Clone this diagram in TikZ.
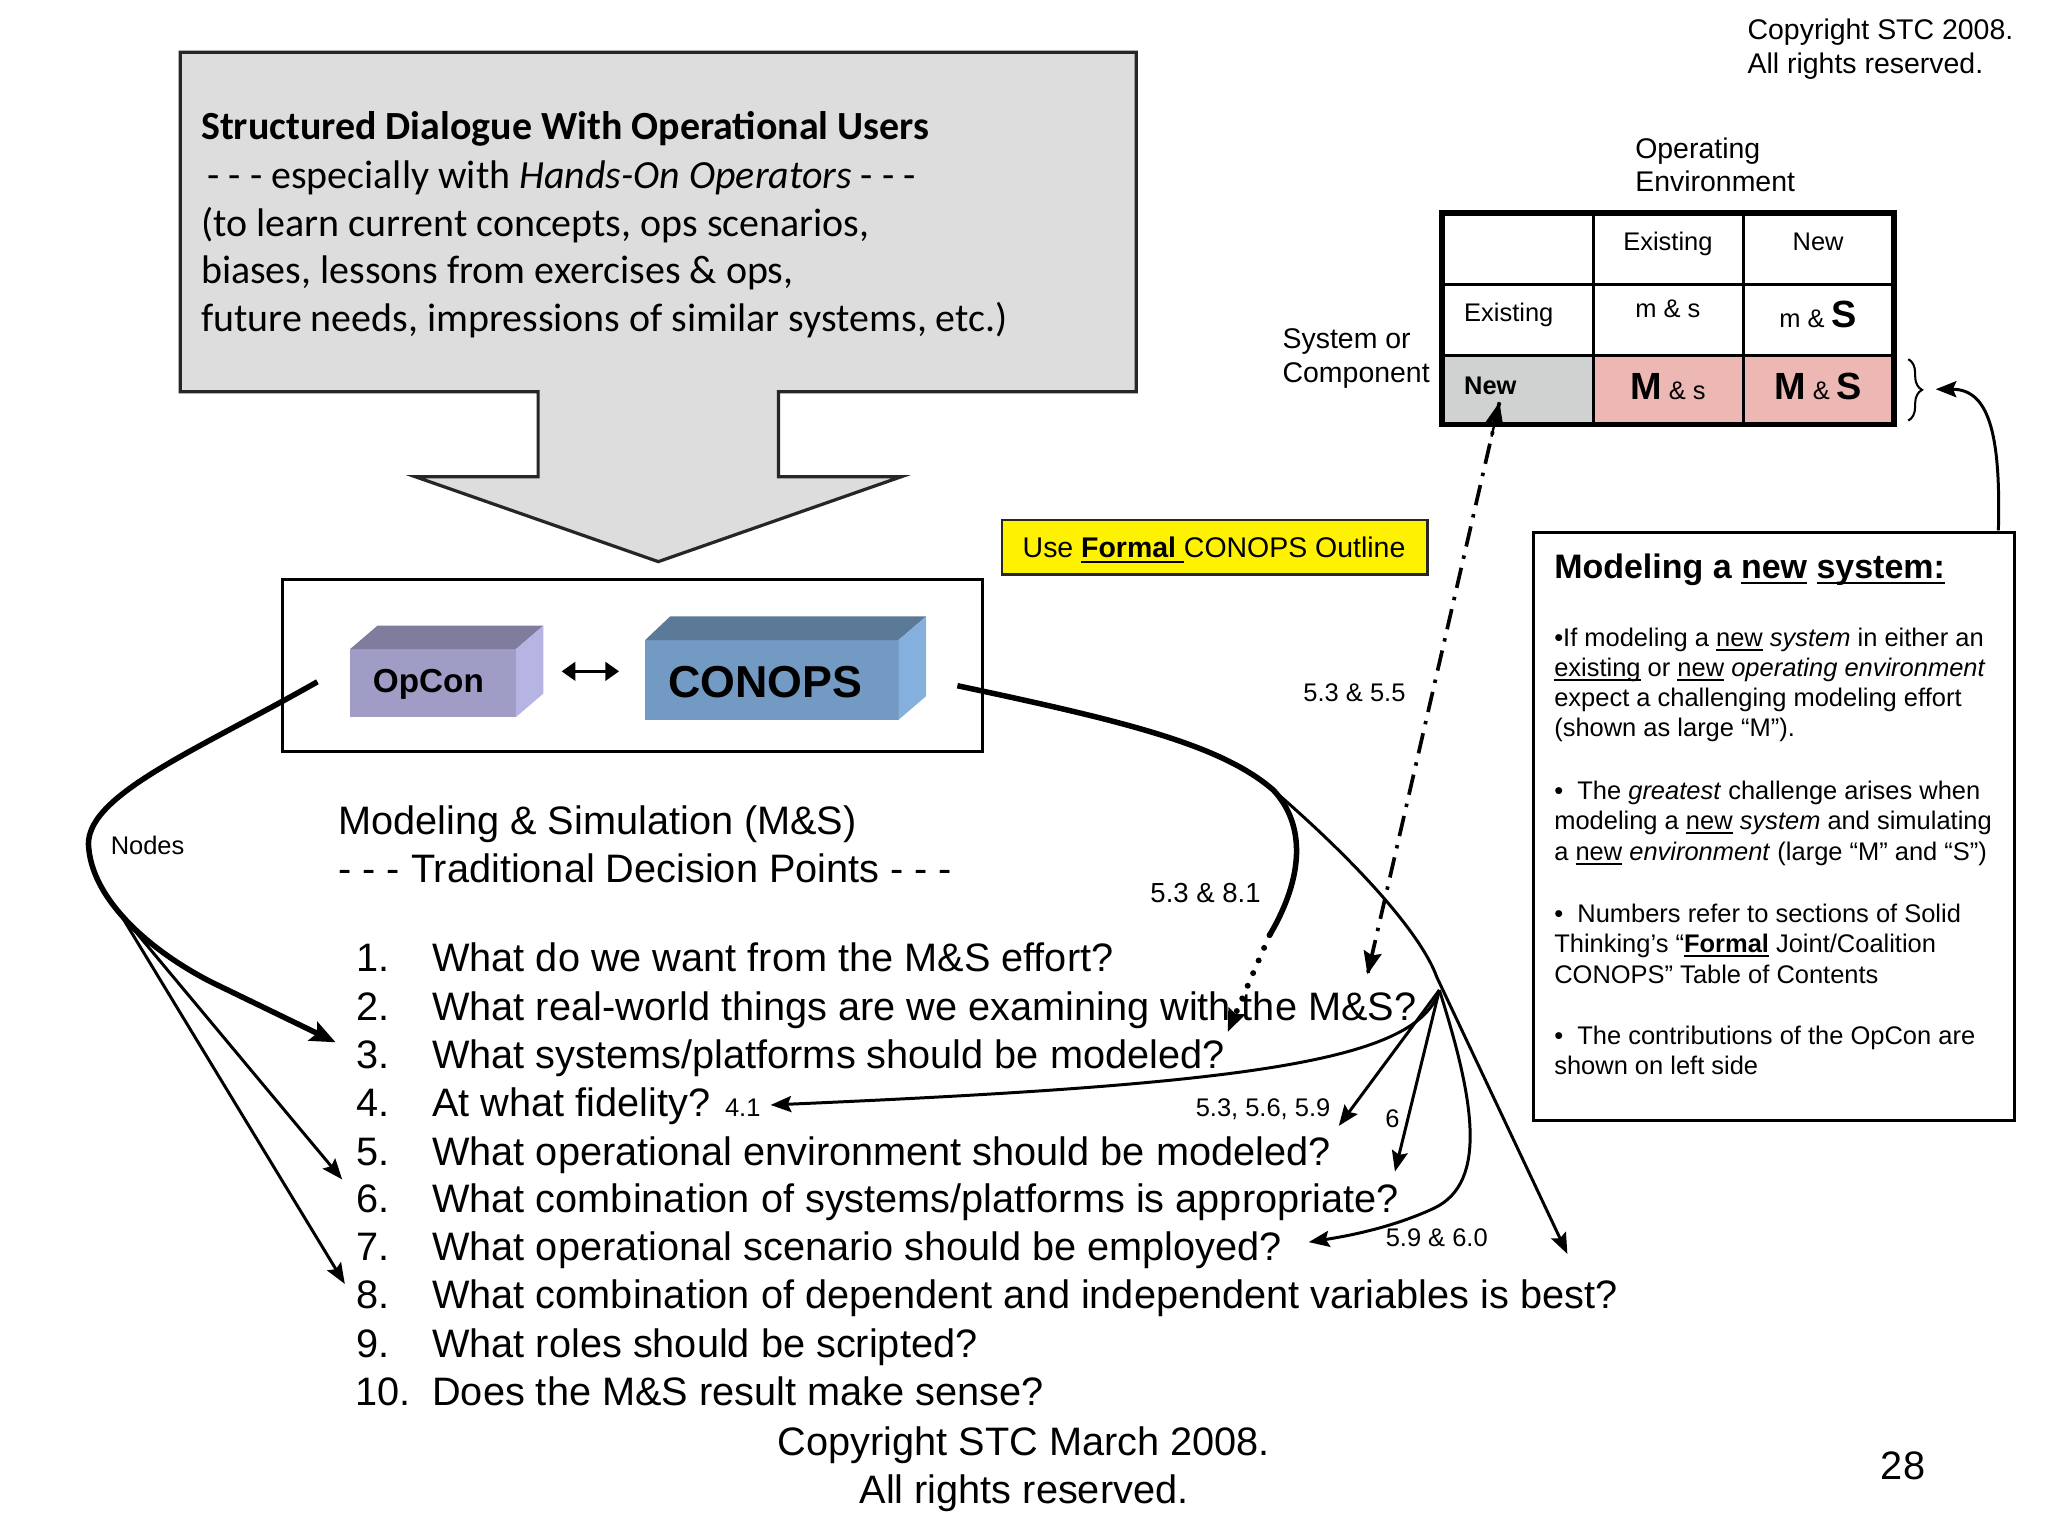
\documentclass[tikz,border=0pt]{standalone}
\usepackage{fontspec}
\setmainfont{Liberation Sans}
\newfontfamily\calib{Carlito}
\usetikzlibrary{arrows.meta,decorations.pathreplacing,calc}
\newcommand\myul[1]{\setbox0\hbox{#1}\rlap{\rule[-0.17em]{\wd0}{0.07em}}\box0\relax}
\definecolor{graybox}{HTML}{DDDDDD}
\definecolor{opfront}{HTML}{9F9DC5}
\definecolor{optop}{HTML}{7F7C9E}
\definecolor{opside}{HTML}{B5B4E2}
\definecolor{cofront}{HTML}{739AC3}
\definecolor{cotop}{HTML}{5B7A98}
\definecolor{coside}{HTML}{85B0DE}
\definecolor{cellgray}{HTML}{D0D2D1}
\definecolor{cellpink}{HTML}{EDB8B3}
\begin{document}
\begin{tikzpicture}[x=0.02cm,y=-0.02cm,
 every node/.style={inner sep=0pt, outer sep=0pt},
 bw/.style={anchor=base west},
 bc/.style={anchor=base},
 fL/.style={font=\fontsize{17.3}{20}\selectfont},
 fS/.style={font=\fontsize{11.1}{13}\selectfont},
 fM/.style={font=\fontsize{12.4}{14}\selectfont},
 cal/.style={font=\calib\fontsize{17.4}{20}\selectfont},
 thickln/.style={line width=2.4pt},
 thinln/.style={line width=1.3pt},
 arr/.style={-{Stealth[length=9pt,width=7pt,inset=1.5pt]}},
 bigarr/.style={-{Stealth[length=11pt,width=9pt,inset=2pt]}},
 dotln/.style={line width=2.6pt, line cap=round, dash pattern=on 0pt off 6pt},
 dashdotln/.style={line width=1.6pt, dash pattern=on 9pt off 4pt on 1.5pt off 4pt},
]
\useasboundingbox (0,0) rectangle (1568,1176);
\fill[white] (0,0) rectangle (1568,1176);

% ---------- copyright top right
\node[bw,fM] (cpa) at (1338,30) {Copyright STC 2008.};
\node[bw,fM] (cpb) at (1338,56) {All rights reserved.};

% ---------- top grey box with arrow
\path[draw=black!85, fill=graybox, line width=1.4pt]
  (138,40) -- (870,40) -- (870,300) -- (596,300) -- (596,365) -- (690,365)
  -- (504,430) -- (318,365) -- (412,365) -- (412,300) -- (138,300) -- cycle;
\node[bw,cal] (t1) at (154,107) {\bfseries Structured Dialogue With Operational Users};
\node[bw,cal] (t2) at (159,144) {- - - especially with \textit{Hands-On Operators} - - -};
\node[bw,cal] (t3) at (154,181) {(to learn current concepts, ops scenarios,};
\node[bw,cal] (t4) at (154,217) {biases, lessons from exercises \& ops,};
\node[bw,cal] (t5) at (154,254) {future needs, impressions of similar systems, etc.)};

% ---------- OpCon / CONOPS box
\draw[line width=1.3pt] (216,444) rectangle (752,575);
\fill[opfront] (268,497) rectangle (395,549);
\fill[optop] (268,497) -- (289,479) -- (416,479) -- (395,497) -- cycle;
\fill[opside] (395,497) -- (416,479) -- (416,531) -- (395,549) -- cycle;
\node[font=\fontsize{14.5}{16}\selectfont\bfseries] (opcon) at (328,524) {OpCon};
\fill[cofront] (494,490) rectangle (688,551);
\fill[cotop] (494,490) -- (513,472) -- (709,472) -- (688,490) -- cycle;
\fill[coside] (688,490) -- (709,472) -- (709,533) -- (688,551) -- cycle;
\node[font=\fontsize{19.5}{22}\selectfont\bfseries] (conops) at (586,522) {CONOPS};
\coordinate (dA) at (430,514);
\coordinate (dB) at (474,514);
\draw[line width=1.6pt, {Triangle[length=6pt,width=8pt]}-{Triangle[length=6pt,width=8pt]}] (dA) -- (dB);

% ---------- heading
\node[bw,fL] (h1) at (259,639) {Modeling \& Simulation (M\&S)};
\node[bw,fL] (h2) at (259,676) {- - - Traditional Decision Points - - -};

% ---------- list
\node[bw,fL] (n1) at (273,744) {1.};
\node[bw,fL] (n2) at (273,781) {2.};
\node[bw,fL] (n3) at (273,818) {3.};
\node[bw,fL] (n4) at (273,855) {4.};
\node[bw,fL] (n5) at (273,892) {5.};
\node[bw,fL] (n6) at (273,928) {6.};
\node[bw,fL] (n7) at (273,965) {7.};
\node[bw,fL] (n8) at (273,1002) {8.};
\node[bw,fL] (n9) at (273,1039) {9.};
\node[bw,fL] (n10) at (272,1076) {10.};
\node[bw,fL] (q1) at (331,744) {What do we want from the M\&S effort?};
\node[bw,fL] (q2) at (331,781) {What real-world things are we examining with the M\&S?};
\node[bw,fL] (q3) at (331,818) {What systems/platforms should be modeled?};
\node[bw,fL] (q4) at (331,855) {At what fidelity? {\fontsize{11.1}{13}\selectfont 4.1}};
\node[bw,fL] (q5) at (331,892) {What operational environment should be modeled?};
\node[bw,fL] (q6) at (331,928) {What combination of systems/platforms is appropriate?};
\node[bw,fL] (q7) at (331,965) {What operational scenario should be employed?};
\node[bw,fL] (q8) at (331,1002) {What combination of dependent and independent variables is best?};
\node[bw,fL] (q9) at (331,1039) {What roles should be scripted?};
\node[bw,fL] (q10) at (331,1076) {Does the M\&S result make sense?};

% ---------- bottom copyright and page number
\node[bc,fL] (cb1) at (784,1114) {Copyright STC March 2008.};
\node[bc,fL] (cb2) at (784,1151) {All rights reserved.};
\node[bc,fL] (pg) at (1457,1133) {28};

% ---------- yellow box
\draw[fill=yellow, draw=black!85, line width=1.1pt] (767,398) rectangle (1093,440);
\node[bw,fM] (yel) at (783,427) {Use \myul{\textbf{Formal}\ }CONOPS Outline};

% ---------- table
\node[bw,fM] (oe1) at (1252,121) {Operating};
\node[bw,fM] (oe2) at (1252,147) {Environment};
\node[bw,fM] (sc1) at (982,267) {System or};
\node[bw,fM] (sc2) at (982,293) {Component};
\fill[cellgray] (1104,272) rectangle (1220,325);
\fill[cellpink] (1220,272) rectangle (1450,325);
\draw[line width=1.2pt] (1220,163) -- (1220,325) (1335,163) -- (1335,325)
  (1104,218) -- (1450,218) (1104,272) -- (1450,272);
\draw[line width=2.6pt] (1104,163) rectangle (1450,325);
\node[bc,fS] (cE) at (1277,192) {Existing};
\node[bc,fS] (cN) at (1392,192) {New};
\node[bw,fS] (rE) at (1121,246) {Existing};
\node[bc,fS] (c22) at (1277,243) {m \& s};
\node[bc,fS] (c23) at (1392,251) {m \& {\fontsize{16.5}{18}\selectfont\bfseries S}};
\node[bw,fS] (rN) at (1121,302) {\bfseries New};
\node[bc,fS] (c32) at (1277,306) {{\fontsize{16.5}{18}\selectfont\bfseries M} \& s};
\node[bc,fS] (c33) at (1392,306) {{\fontsize{16.5}{18}\selectfont\bfseries M} \& {\fontsize{16.5}{18}\selectfont\bfseries S}};
\draw[line width=0.9pt, decorate, decoration={brace, amplitude=6pt}] (1461,275) -- (1461,322);

% ---------- right text box
\draw[line width=1.3pt] (1174,408) rectangle (1542,858);
\node[bw,font=\fontsize{14.8}{17}\selectfont\bfseries] (mt) at (1190,443) {Modeling a \myul{new} \myul{system:}};
\node[bw,fS] (p11) at (1190,495) {•If modeling a \myul{new} \textit{system} in either an};
\node[bw,fS] (p12) at (1190,518) {\myul{existing} or \myul{new} \textit{operating environment}};
\node[bw,fS] (p13) at (1190,541) {expect a challenging modeling effort};
\node[bw,fS] (p14) at (1190,564) {(shown as large “M”).};
\node[bw,fS] (p21) at (1190,612) {•\ \ The \textit{greatest} challenge arises when};
\node[bw,fS] (p22) at (1190,635) {modeling a \myul{new} \textit{system} and simulating};
\node[bw,fS] (p23) at (1190,659) {a \myul{new} \textit{environment} (large “M” and “S”)};
\node[bw,fS] (p31) at (1190,706) {•\ \ Numbers refer to sections of Solid};
\node[bw,fS] (p32) at (1190,729) {Thinking’s “\myul{\textbf{Formal}} Joint/Coalition};
\node[bw,fS] (p33) at (1190,753) {CONOPS” Table of Contents};
\node[bw,fS] (p41) at (1190,800) {•\ \ The contributions of the OpCon are};
\node[bw,fS] (p42) at (1190,823) {shown on left side};

% arrow from text box to brace
\coordinate (mbTop) at (1530,406);
\coordinate (brTip) at (1482,298);
\draw[thinln, arr] (mbTop) .. controls (1532,330) and (1522,298) .. (brTip);

% ---------- labels
\node[bc,fS] (l55) at (1037,537) {5.3 \& 5.5};
\node[bc,font=\fontsize{12}{14}\selectfont] (l81) at (923,691) {5.3 \& 8.1};
\node[bc,fS] (l59) at (967,855) {5.3, 5.6, 5.9};
\node[bc,fS] (l6) at (1066,863) {6};
\node[bc,fS] (l60) at (1100,954) {5.9 \& 6.0};
\node[bc,fS] (lnodes) at (113,654) {Nodes};

% ---------- right connectors
\coordinate (coR) at (733,525);
\coordinate (jn) at (975,605);
\coordinate (thkEnd) at (972,716);
\coordinate (dotTip) at (940,790);
\coordinate (hub) at (1102,758);
\coordinate (farTip) at (1200,960);
\coordinate (tip41) at (590,846);
\coordinate (tip5) at (1025,862);
\coordinate (tip6) at (1068,897);
\coordinate (tip7) at (1002,951);
\coordinate (ddTop) at (1148,308);
\coordinate (ddBot) at (1047,746);
\draw[thickln] (coR) .. controls (860,552) and (935,570) .. (jn) .. controls (1000,632) and (998,672) .. (thkEnd);
\draw[dotln] (thkEnd) -- (dotTip);
\draw[line width=1pt, -{Stealth[length=10pt,width=8pt,inset=1.5pt]}] ($(thkEnd)!0.85!(dotTip)$) -- (dotTip);
\draw[thinln, arr] (jn) .. controls (1050,670) and (1090,720) .. (1100,748) -- (farTip);
\draw[thinln, arr] (hub) .. controls (1086,812) and (960,830) .. (tip41);
\draw[thinln, arr] (hub) -- (tip5);
\draw[thinln, arr] (hub) -- (tip6);
\draw[thinln, arr] (hub) .. controls (1128,840) and (1140,905) .. (1098,925) .. controls (1070,938) and (1040,945) .. (tip7);
\draw[dashdotln] (ddTop) -- (ddBot);
\draw[line width=1pt, -{Stealth[length=10pt,width=8pt,inset=1.5pt]}] ($(ddBot)!0.06!(ddTop)$) -- (ddBot);
\draw[line width=1pt, -{Stealth[length=10pt,width=8pt,inset=1.5pt]}] ($(ddTop)!0.06!(ddBot)$) -- (ddTop);

% ---------- left connectors
\coordinate (opL) at (243,522);
\coordinate (nd) at (91,698);
\coordinate (kink) at (162,752);
\coordinate (tip3) at (257,798);
\coordinate (tip6l) at (262,903);
\coordinate (tip8l) at (264,983);
\draw[thickln, bigarr] (opL) .. controls (150,575) and (62,610) .. (68,650) .. controls (72,690) and (115,728) .. (kink) -- (tip3);
\draw[thinln, arr] (nd) -- (tip6l);
\draw[thinln, arr] (nd) -- (tip8l);
\end{tikzpicture}
\end{document}
